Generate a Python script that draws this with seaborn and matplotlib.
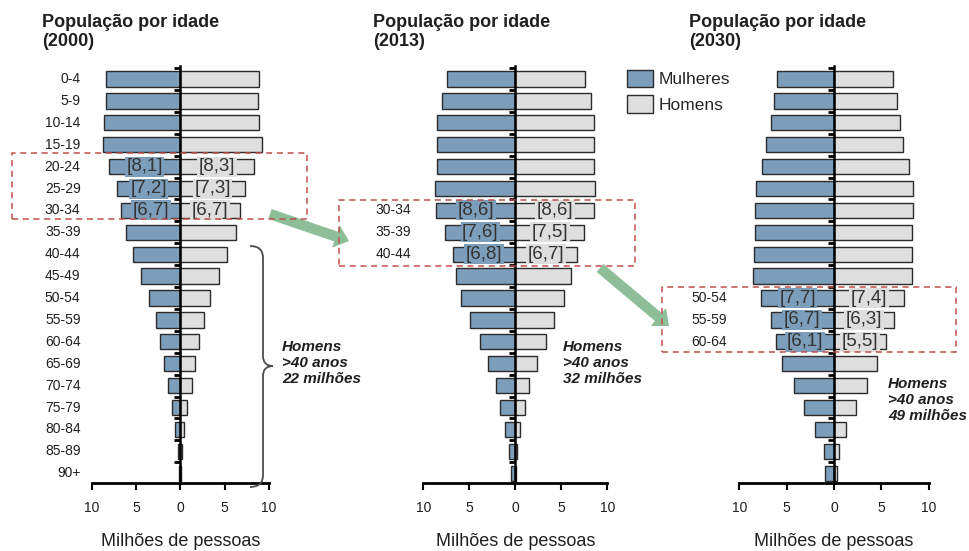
import numpy as np
import pandas as pd
import matplotlib
matplotlib.use('Agg')
import matplotlib.pyplot as plt
import matplotlib.transforms as mtransforms
from matplotlib.patches import Patch, Rectangle, FancyArrowPatch, PathPatch
from matplotlib.path import Path
import seaborn as sns

# Faixas etárias (de cima para baixo)
idades = ['0-4', '5-9', '10-14', '15-19', '20-24', '25-29', '30-34', '35-39',
          '40-44', '45-49', '50-54', '55-59', '60-64', '65-69', '70-74',
          '75-79', '80-84', '85-89', '90+']

anos = ['2000', '2013', '2030']

# milhões de pessoas
mulheres_2000 = [8.45, 8.45, 8.6, 8.8, 8.1, 7.2, 6.7, 6.2, 5.4, 4.5, 3.5, 2.8, 2.3, 1.8, 1.4, 0.9, 0.65, 0.3, 0.1]
homens_2000 = [8.9, 8.8, 8.9, 9.2, 8.3, 7.3, 6.7, 6.3, 5.3, 4.4, 3.4, 2.65, 2.15, 1.65, 1.3, 0.75, 0.4, 0.2, 0.05]

mulheres_2013 = [7.4, 8.0, 8.5, 8.5, 8.5, 8.75, 8.6, 7.6, 6.8, 6.5, 5.9, 4.9, 3.85, 3.0, 2.15, 1.65, 1.1, 0.7, 0.45]
homens_2013 = [7.6, 8.2, 8.55, 8.55, 8.55, 8.65, 8.6, 7.5, 6.7, 6.05, 5.3, 4.25, 3.3, 2.35, 1.5, 1.0, 0.5, 0.22, 0.08]

mulheres_2030 = [6.0, 6.35, 6.7, 7.15, 7.6, 8.2, 8.35, 8.35, 8.45, 8.55, 7.7, 6.7, 6.1, 5.45, 4.25, 3.2, 2.05, 1.1, 1.0]
homens_2030 = [6.25, 6.6, 6.95, 7.3, 7.9, 8.35, 8.35, 8.25, 8.25, 8.25, 7.4, 6.3, 5.5, 4.55, 3.5, 2.3, 1.3, 0.55, 0.35]

# faixas destacadas em cada ano (a mesma geração)
destaque_2000 = ['20-24', '25-29', '30-34']
destaque_2013 = ['30-34', '35-39', '40-44']
destaque_2030 = ['50-54', '55-59', '60-64']

# homens com mais de 40 anos (milhões)
homens_40 = ['22', '32', '49']

cor_mulheres = '#7C9EBA'
cor_homens = '#DEDEDE'
cor_borda = '#2B2B2B'
cor_texto = '#1F1F1F'

sns.set_style('white')
plt.rcParams['font.family'] = ['Liberation Sans', 'DejaVu Sans']

W, H = 970, 551


def fx(x):
    return x / W


def fy(y):
    return 1 - y / H


fig = plt.figure(figsize=(9.7, 5.51), dpi=100)

# posições em pixels (esquerda, direita) de cada painel, e do texto "Homens >40"
eixos_px = [(92, 268.7), (423.3, 607.3), (739.3, 928.7)]
texto_px = [(282, 340), (562.7, 340), (888, 377)]
topo, base = 66, 483.3

dados = [
    (mulheres_2000, homens_2000, destaque_2000),
    (mulheres_2013, homens_2013, destaque_2013),
    (mulheres_2030, homens_2030, destaque_2030),
]

for i, (mulheres, homens, destaque) in enumerate(dados):
    esq, dir_ = eixos_px[i]
    ax = fig.add_axes([fx(esq), fy(base), fx(dir_) - fx(esq), (base - topo) / H])

    df = pd.DataFrame({
        'idade': idades * 2,
        'sexo': ['Mulheres'] * len(idades) + ['Homens'] * len(idades),
        'valor': [-v for v in mulheres] + list(homens),
    })
    sns.barplot(data=df, x='valor', y='idade', hue='sexo', order=idades,
                hue_order=['Mulheres', 'Homens'], dodge=False, saturation=1,
                palette={'Mulheres': cor_mulheres, 'Homens': cor_homens},
                edgecolor=cor_borda, linewidth=1.0, width=0.7,
                errorbar=None, legend=False, orient='h', ax=ax)

    ax.set_xlim(-10, 10)
    ax.set_ylim(18.46, -0.594)

    for s in ['top', 'right']:
        ax.spines[s].set_visible(False)
    ax.spines['left'].set_position(('data', 0))
    ax.spines['left'].set_linewidth(1.8)
    ax.spines['left'].set_color('black')
    ax.spines['bottom'].set_linewidth(2)
    ax.spines['bottom'].set_color('black')

    ax.set_yticks(np.arange(-0.5, 18, 1))
    ax.set_yticklabels([])
    ax.tick_params(axis='y', direction='out', length=4, width=2, left=True, labelleft=False, color='black')
    ax.set_xticks([-10, -5, 0, 5, 10])
    ax.set_xticklabels(['10', '5', '0', '5', '10'])
    ax.tick_params(axis='x', direction='out', length=5, width=1.5, pad=8,
                   labelsize=10, bottom=True, colors='black', labelcolor=cor_texto)
    ax.set_ylabel('')
    ax.set_xlabel('Milhões de pessoas', fontsize=13, labelpad=13, color=cor_texto)

    trans = mtransforms.blended_transform_factory(ax.transAxes, ax.transData)
    rotulos = idades if i == 0 else destaque
    for idade in rotulos:
        ax.text(-0.065, idades.index(idade), idade, transform=trans, ha='right',
                va='center', fontsize=10, color=cor_texto, clip_on=False)

    # valores entre colchetes nas faixas destacadas
    for idade in destaque:
        k = idades.index(idade)
        for v, sinal, cor in [(mulheres[k], -1, cor_mulheres), (homens[k], 1, cor_homens)]:
            ax.text(sinal * v / 2, k, '[' + f'{v:.1f}'.replace('.', ',') + ']',
                    ha='center', va='center', fontsize=13.5, color='#333333', zorder=4,
                    bbox=dict(boxstyle='square,pad=0.08', fc=cor, ec='none'))

    fig.text(fx(esq - 50), fy(14), f'População por idade\n({anos[i]})',
             fontsize=13, fontweight='bold', va='top', ha='left',
             linespacing=1.15, color=cor_texto)

    tx, ty = texto_px[i]
    fig.text(fx(tx), fy(ty), f'Homens\n>40 anos\n{homens_40[i]} milhões',
             fontsize=11, fontweight='bold', fontstyle='italic', va='top',
             ha='left', linespacing=1.2, color=cor_texto)

# caixas tracejadas
caixas = [(12, 153, 307, 219), (339, 200, 635, 266), (662, 287, 956, 352)]
for x0, y0, x1, y1 in caixas:
    fig.add_artist(Rectangle((fx(x0), fy(y1)), fx(x1) - fx(x0), fy(y0) - fy(y1),
                             transform=fig.transFigure, fill=False, ec='#C0504D',
                             lw=1.1, ls=(0, (4, 3)), zorder=5))

# setas verdes
setas = [((270, 214), (349, 241)), ((600, 268), (669, 326))]
for (xa, ya), (xb, yb) in setas:
    fig.add_artist(FancyArrowPatch((fx(xa), fy(ya)), (fx(xb), fy(yb)),
                                   transform=fig.transFigure,
                                   arrowstyle='simple,head_width=17,head_length=10,tail_width=7.5',
                                   mutation_scale=1, shrinkA=0, shrinkB=0,
                                   fc='#8EBE98', ec='none', zorder=4))

# chave do primeiro painel
pts = [(250, 246), (263, 246), (263, 258), (263, 356), (263, 366), (273, 366),
       (273, 366), (263, 366), (263, 376), (263, 475), (263, 487), (250, 487)]
codes = [Path.MOVETO, Path.CURVE3, Path.CURVE3, Path.LINETO, Path.CURVE3, Path.CURVE3,
         Path.MOVETO, Path.CURVE3, Path.CURVE3, Path.LINETO, Path.CURVE3, Path.CURVE3]
verts = [(fx(x), fy(y)) for x, y in pts]
fig.add_artist(PathPatch(Path(verts, codes), transform=fig.transFigure, fill=False,
                         ec='#4D4D4D', lw=1.3))

# legenda
handles = [Patch(fc=cor_mulheres, ec=cor_borda, lw=1.0), Patch(fc=cor_homens, ec=cor_borda, lw=1.0)]
fig.legend(handles=handles, labels=['Mulheres', 'Homens'], loc='upper left',
           bbox_to_anchor=(fx(627), fy(70)), frameon=False, fontsize=12.5,
           handlelength=1.5, handleheight=1.15, handletextpad=0.3,
           labelspacing=0.45, borderpad=0, borderaxespad=0)

fig.savefig('out.png', dpi=100)
